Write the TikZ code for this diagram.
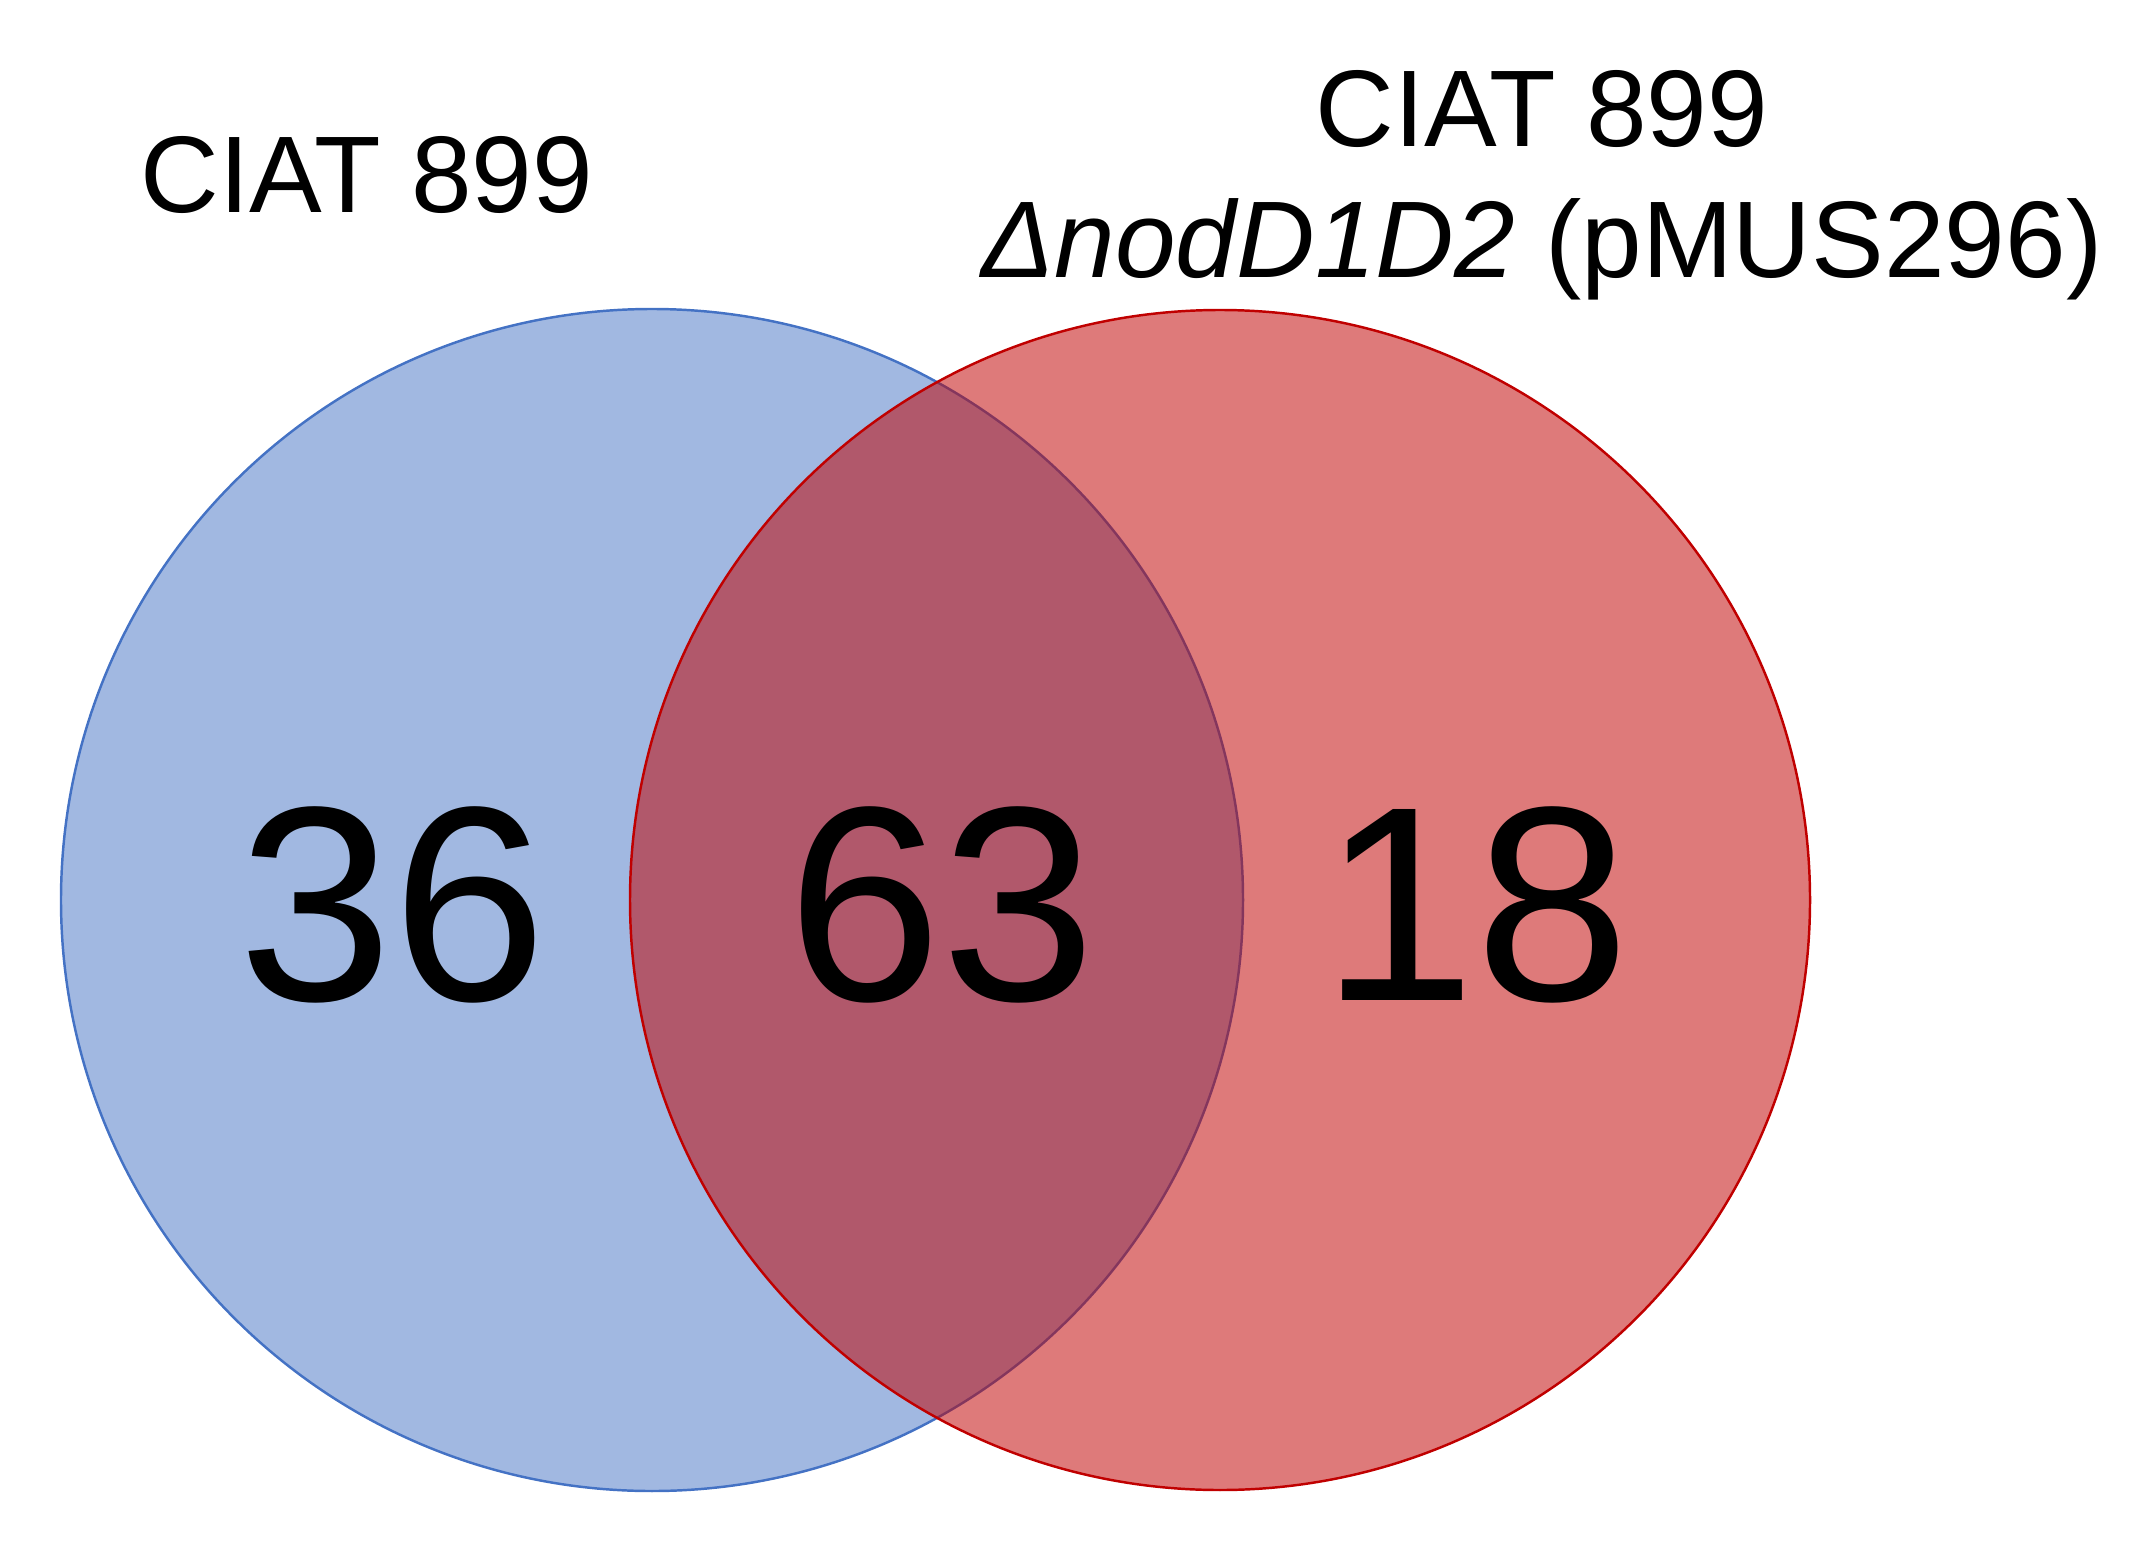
\documentclass[tikz,border=0pt]{standalone}
\usepackage{fontspec}
\setmainfont{Liberation Sans}
\definecolor{wtblue}{HTML}{4472C4}
\definecolor{mutred}{HTML}{C00000}
\begin{document}
\begin{tikzpicture}[lbl/.style={inner sep=0pt,font=\fontsize{31}{37.3}\selectfont},
                    num/.style={inner sep=0pt,font=\fontsize{79}{84}\selectfont}]
        \useasboundingbox (0,0) rectangle (21.37,-15.45);
        \draw[wtblue, line width=0.7pt, fill=wtblue, fill opacity=0.5] (6.52,-9.00) circle (5.91);
        \draw[mutred, line width=0.7pt, fill=mutred, fill opacity=0.52] (12.20,-9.00) circle (5.90);
        \node[lbl] (wt) at (3.67,-1.75) {CIAT 899};
        \node[lbl, align=center, anchor=north] (mut) at (15.42,-0.70) {CIAT 899\\\textit{ΔnodD1D2} (pMUS296)};
        \node[num] (onlywt) at (3.93,-9.05) {36};
        \node[num] (both) at (9.42,-9.05) {63};
        \node[num] (onlymut) at (14.76,-9.05) {18};
    \end{tikzpicture}
\end{document}
